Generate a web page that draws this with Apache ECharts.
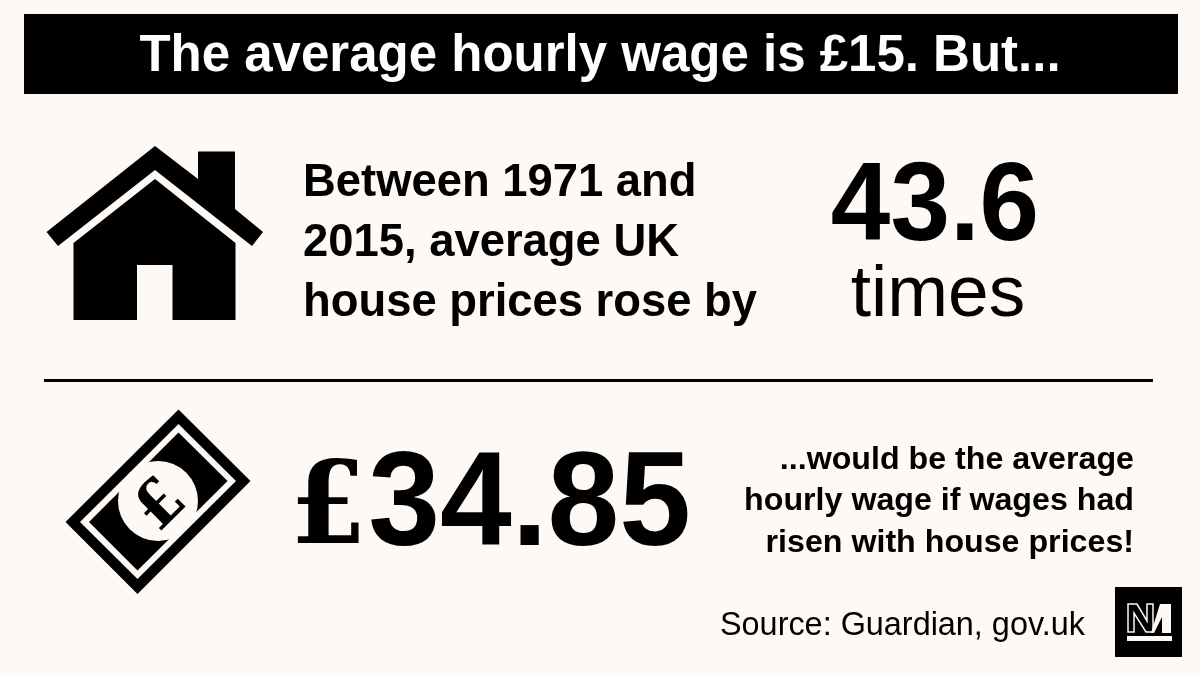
<!DOCTYPE html>
<html>
<head>
<meta charset="utf-8">
<title>Average hourly wage</title>
<style>
    html, body { height: 100%; margin: 0; padding: 0; background: #fff9f5; }
    #main { width: 1200px; height: 675px; }
</style>
</head>
<body>
<div id="main"></div>
<script src="https://cdn.jsdelivr.net/npm/echarts@6/dist/echarts.min.js"></script>
<script>
    // figures on the graphic
    var currentWage = 15;
    var priceRise = 43.6;
    var adjustedWage = 34.85;

    var headline = 'The average hourly wage is £' + currentWage + '. But...';
    var houseLines = ['Between 1971 and', '2015, average UK', 'house prices rose by'];
    var wageLines = ['...would be the average', 'hourly wage if wages had', 'risen with house prices!'];
    var sourceText = 'Source: Guardian, gov.uk';

    var INK = '#000';
    var PAPER = '#fff9f5';
    var FONT = '"Liberation Sans", Arial, sans-serif';

    function label(x, y, text, size, weight, align, stretch) {
        return {
            type: 'text',
            x: x, y: y, scaleY: stretch || 1,
            style: {
                x: 0, y: 0, text: text, fill: INK,
                font: weight + ' ' + size + 'px ' + FONT,
                textAlign: align || 'left',
                textVerticalAlign: 'middle'
            }
        };
    }

    function poly(points, fill) {
        return { type: 'polygon', shape: { points: points }, style: { fill: fill || INK } };
    }

    function diamond(top, right, bottom, left, fill) {
        return poly([top, right, bottom, left], fill);
    }

    var items = [];

    // header
    items.push({ type: 'rect', shape: { x: 24, y: 14, width: 1154, height: 80 }, style: { fill: INK } });
    var head = label(600, 57, headline, 51, 'bold', 'center');
    head.style.fill = '#fff';
    items.push(head);

    // house icon
    items.push(poly([[155, 146], [198, 179], [198, 151.5], [235, 151.5], [235, 209], [263, 232], [252, 246],
        [155, 170], [58, 246], [46.5, 232]]));
    items.push(poly([[155, 179], [235.5, 243], [235.5, 320], [172.5, 320], [172.5, 265], [137, 265], [137, 320],
        [73.5, 320], [73.5, 243]]));

    // house text
    houseLines.forEach(function (t, i) {
        items.push(label(303, 183 + i * 60, t, 45.4, 'bold'));
    });
    items.push(label(935, 209, String(priceRise), 107, 'bold', 'center', 1.04));
    items.push(label(938, 296, 'times', 73, 'normal', 'center'));

    // divider
    items.push({ type: 'line', shape: { x1: 44, y1: 380.5, x2: 1153, y2: 380.5 }, style: { stroke: INK, lineWidth: 3 } });

    // banknote icon
    items.push(diamond([178.5, 409.5], [250.5, 481], [137.5, 594], [65.5, 522]));
    items.push(diamond([178.5, 424], [236, 481], [137.5, 579], [80, 522], PAPER));
    items.push(diamond([178.5, 432.5], [227.5, 481], [137.5, 570.5], [89, 522]));
    items.push({ type: 'circle', shape: { cx: 158, cy: 501, r: 40 }, style: { fill: PAPER } });
    items.push({
        type: 'text', x: 162, y: 507, rotation: Math.PI / 4,
        style: {
            x: 0, y: 0, text: '£', fill: INK,
            font: 'bold 62px "DejaVu Serif", serif',
            textAlign: 'center', textVerticalAlign: 'middle'
        }
    });

    // wage text: the pound sign has a serif look in the original
    var poundSign = label(290, 514, '£', 110, 'bold', 'left', 1.03);
    poundSign.style.font = 'bold 110px "DejaVu Serif", serif';
    items.push(poundSign);
    items.push(label(691, 508, String(adjustedWage), 129, 'bold', 'right', 1.04));
    wageLines.forEach(function (t, i) {
        items.push(label(1134, 460 + i * 41.5, t, 32.2, 'bold', 'right'));
    });

    // source and logo
    items.push(label(720, 626, sourceText, 32.4, 'normal'));
    items.push({ type: 'rect', shape: { x: 1115, y: 587, width: 67, height: 70 }, style: { fill: INK } });
    items.push({
        type: 'polygon',
        shape: { points: [[1128, 604], [1137, 604], [1147, 621], [1147, 604], [1153, 604], [1153, 632], [1146, 632],
            [1134, 613], [1134, 632], [1128, 632]] },
        style: { fill: 'none', stroke: PAPER, lineWidth: 1.5 }
    });
    items.push(poly([[1160, 604], [1171, 604], [1171, 633], [1162, 633], [1162, 617], [1154, 633], [1151, 633]], PAPER));
    items.push({ type: 'rect', shape: { x: 1127, y: 636, width: 45, height: 5 }, style: { fill: PAPER } });

    var myChart = echarts.init(document.getElementById('main'), null, { renderer: 'canvas' });
    myChart.setOption({
        backgroundColor: PAPER,
        animation: false,
        graphic: { elements: items }
    });
</script>
</body>
</html>
